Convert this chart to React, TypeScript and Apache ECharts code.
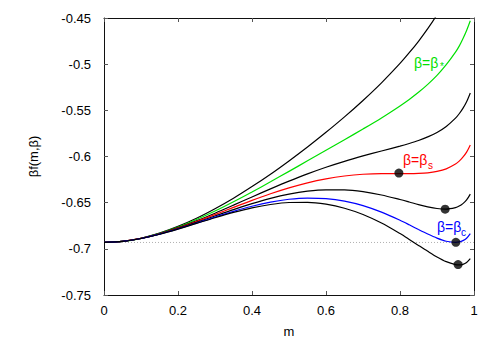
import React, { useEffect, useRef } from "react";
import * as echarts from "echarts";

// magnetisation grid
const mValues = [0, 0.05, 0.1, 0.15, 0.2, 0.25, 0.3, 0.35, 0.4, 0.45, 0.5, 0.55, 0.6, 0.65, 0.7, 0.75, 0.8, 0.825, 0.85, 0.875, 0.9, 0.925, 0.95, 0.96, 0.97, 0.98, 0.99];

// curves from top to bottom
const curve1 = [-0.6931, -0.6919, -0.6885, -0.6830, -0.6757, -0.6669, -0.6566, -0.6452, -0.6326, -0.6192, -0.6048, -0.5897, -0.5738, -0.5571, -0.5393, -0.5202, -0.4992, -0.4876, -0.4752, -0.4616, -0.4464, -0.4290, -0.4084];
const curveStar = [-0.6931, -0.6920, -0.6886, -0.6833, -0.6765, -0.6683, -0.6591, -0.6490, -0.6384, -0.6274, -0.6161, -0.6047, -0.5933, -0.5818, -0.5702, -0.5582, -0.5452, -0.5382, -0.5305, -0.5219, -0.5122, -0.5006, -0.4870, -0.4805, -0.4725, -0.4635, -0.4530];
const curve3 = [-0.6931, -0.6920, -0.6887, -0.6836, -0.6771, -0.6696, -0.6614, -0.6527, -0.6438, -0.6351, -0.6267, -0.6188, -0.6116, -0.6052, -0.5994, -0.5940, -0.5888, -0.5859, -0.5827, -0.5788, -0.5740, -0.5675, -0.5585, -0.5537, -0.5479, -0.5407, -0.5312];
const curveS = [-0.6931, -0.6920, -0.6887, -0.6838, -0.6776, -0.6705, -0.6629, -0.6551, -0.6475, -0.6404, -0.6340, -0.6285, -0.6242, -0.6211, -0.6192, -0.6185, -0.6185, -0.6185, -0.6183, -0.6177, -0.6162, -0.6134, -0.6082, -0.6050, -0.6008, -0.5953, -0.5875];
const curve5 = [-0.6931, -0.6920, -0.6888, -0.6840, -0.6780, -0.6714, -0.6644, -0.6575, -0.6511, -0.6454, -0.6408, -0.6376, -0.6361, -0.6362, -0.6381, -0.6417, -0.6466, -0.6493, -0.6521, -0.6545, -0.6563, -0.6569, -0.6553, -0.6537, -0.6510, -0.6471, -0.6408];
const curveC = [-0.6931, -0.6920, -0.6888, -0.6841, -0.6784, -0.6721, -0.6656, -0.6594, -0.6539, -0.6494, -0.6463, -0.6450, -0.6456, -0.6483, -0.6532, -0.6603, -0.6691, -0.6740, -0.6791, -0.6840, -0.6884, -0.6918, -0.6930, -0.6925, -0.6911, -0.6885, -0.6835];
const curve7 = [-0.6931, -0.6920, -0.6888, -0.6842, -0.6786, -0.6725, -0.6663, -0.6606, -0.6557, -0.6520, -0.6498, -0.6496, -0.6516, -0.6560, -0.6628, -0.6721, -0.6835, -0.6898, -0.6963, -0.7027, -0.7088, -0.7139, -0.7171, -0.7174, -0.7168, -0.7148, -0.7107];

// marked stationary points
const dotM = [0.797, 0.922, 0.951, 0.957];
const dotV = [-0.618, -0.657, -0.693, -0.717];

// reference level -ln 2
const baselineM = [0, 1];
const baselineV = -0.6931;

const xTicks = { min: 0, max: 1, interval: 0.2 };
const yTicks = { min: -0.75, max: -0.45, interval: 0.05 };

const FONT = "Liberation Sans, Arial, sans-serif";

function pairs(vals: number[]) {
  return vals.map((v, i) => [mValues[i], v]);
}

export default function App() {
  const ref = useRef<HTMLDivElement>(null);
  useEffect(() => {
    document.body.style.margin = "0";
    const chart = echarts.init(ref.current!, null, { renderer: "svg" });
    const lineSeries = (data: number[], color: string) => ({
      type: "line",
      data: pairs(data),
      smooth: 0.3,
      showSymbol: false,
      symbol: "none",
      lineStyle: { color, width: 1.2 },
      clip: true,
      z: 3,
    });
    const tickStyle = { show: true, inside: true, length: 4, lineStyle: { color: "#555", width: 1 } };
    const lineAx = { show: true, onZero: false, lineStyle: { color: "#111", width: 1 } };
    chart.setOption({
      animation: false,
      backgroundColor: "#fff",
      grid: { left: 104, right: 17, top: 18, bottom: 48, containLabel: false, outerBoundsMode: "none" },
      xAxis: [
        {
          type: "value",
          ...xTicks,
          name: "m",
          nameLocation: "middle",
          nameGap: 30,
          nameTextStyle: { fontFamily: FONT, fontSize: 13, color: "#000" },
          axisLine: lineAx,
          axisTick: tickStyle,
          axisLabel: { fontFamily: FONT, fontSize: 13, color: "#000", margin: 9 },
          splitLine: { show: false },
        },
        {
          type: "value",
          ...xTicks,
          position: "top",
          axisLine: lineAx,
          axisTick: tickStyle,
          axisLabel: { show: false },
          splitLine: { show: false },
        },
      ],
      yAxis: [
        {
          type: "value",
          ...yTicks,
          name: "βf(m,β)",
          nameLocation: "middle",
          nameGap: 64,
          nameRotate: 90,
          nameTextStyle: { fontFamily: FONT, fontSize: 13, color: "#000" },
          axisLine: lineAx,
          axisTick: tickStyle,
          axisLabel: { fontFamily: FONT, fontSize: 13, color: "#000", margin: 13 },
          splitLine: { show: false },
        },
        {
          type: "value",
          ...yTicks,
          position: "right",
          axisLine: lineAx,
          axisTick: tickStyle,
          axisLabel: { show: false },
          splitLine: { show: false },
        },
      ],
      series: [
        {
          type: "line",
          data: baselineM.map((m) => [m, baselineV]),
          symbol: "none",
          lineStyle: { color: "#b0b0b0", width: 1, type: [1, 2] },
          z: 1,
        },
        lineSeries(curve1, "#000000"),
        lineSeries(curveStar, "#00e000"),
        lineSeries(curve3, "#000000"),
        lineSeries(curveS, "#ff0000"),
        lineSeries(curve5, "#000000"),
        lineSeries(curveC, "#0000ff"),
        lineSeries(curve7, "#000000"),
        {
          type: "scatter",
          data: dotM.map((m, i) => [m, dotV[i]]),
          symbol: "circle",
          symbolSize: 9,
          itemStyle: { color: "#000" },
          z: 5,
        },
      ],
      graphic: [
        { type: "text", x: 414, y: 56, style: { text: "β=β", fontFamily: FONT, fontSize: 14, fill: "#00e000" } },
        { type: "text", x: 440, y: 61, style: { text: "*", fontFamily: FONT, fontSize: 10, fill: "#00e000" } },
        { type: "text", x: 403, y: 153, style: { text: "β=β", fontFamily: FONT, fontSize: 14, fill: "#ff0000" } },
        { type: "text", x: 428, y: 160, style: { text: "s", fontFamily: FONT, fontSize: 10, fill: "#ff0000" } },
        { type: "text", x: 437, y: 220, style: { text: "β=β", fontFamily: FONT, fontSize: 14, fill: "#0000ff" } },
        { type: "text", x: 461, y: 227, style: { text: "c", fontFamily: FONT, fontSize: 10, fill: "#0000ff" } },
      ],
    });
    return () => chart.dispose();
  }, []);
  return <div ref={ref} style={{ width: 491, height: 343 }} />;
}
